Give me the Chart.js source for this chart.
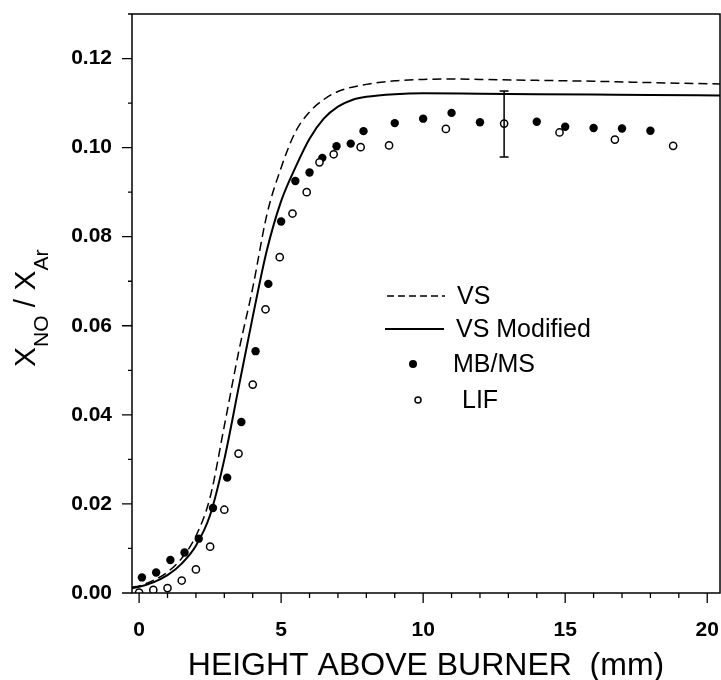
<!DOCTYPE html>
<html lang="en">
<head>
    <meta charset="UTF-8">
    <title>XNO / XAr vs height above burner</title>
    <script src="https://cdn.jsdelivr.net/npm/chart.js"></script>
    <style>
        body { margin: 0; background: #fff; }
        #wrap { width: 721px; height: 680px; }
    </style>
</head>
<body>
<div id="wrap"><canvas id="noChart" width="721" height="680"></canvas></div>
<script>
    // model curves
    const vsX = [-0.25, 0, 0.5, 1, 1.5, 2, 2.5, 3, 3.5, 4, 4.5, 5, 5.5, 6, 6.5, 7, 8, 9, 10, 11, 12, 14, 16, 18, 20.45];
    const vsY = [0.0013, 0.0016, 0.0028, 0.0047, 0.0078, 0.0128, 0.0215, 0.0375, 0.0540, 0.0685, 0.0850, 0.0955, 0.1035, 0.1080, 0.1108, 0.1126, 0.1142, 0.1150, 0.1153, 0.1154, 0.1153, 0.1151, 0.1149, 0.1146, 0.1143];
    const vsModX = [-0.25, 0, 0.5, 1, 1.5, 2, 2.5, 3, 3.5, 4, 4.5, 5, 5.5, 6, 6.5, 7, 7.5, 8, 9, 10, 12, 14, 16, 18, 20.45];
    const vsModY = [0.0011, 0.0014, 0.0024, 0.0040, 0.0066, 0.0106, 0.0175, 0.0300, 0.0460, 0.0620, 0.0770, 0.0880, 0.0955, 0.1020, 0.1065, 0.1092, 0.1107, 0.1114, 0.1120, 0.1122, 0.1121, 0.1120, 0.1119, 0.1118, 0.1117];

    // measurements
    const mbX = [0.1, 0.6, 1.1, 1.6, 2.1, 2.6, 3.1, 3.6, 4.1, 4.55, 5.0, 5.5, 6.0, 6.45, 6.95, 7.45, 7.9, 9, 10, 11, 12, 14, 15, 16, 17, 18];
    const mbY = [0.0035, 0.0046, 0.0074, 0.0091, 0.0122, 0.0191, 0.0259, 0.0384, 0.0543, 0.0694, 0.0834, 0.0925, 0.0944, 0.0977, 0.1003, 0.1009, 0.1037, 0.1055, 0.1065, 0.1078, 0.1057, 0.1058, 0.1047, 0.1044, 0.1043, 0.1038];
    const lifX = [0, 0.5, 1.0, 1.5, 2.0, 2.5, 3.0, 3.5, 4.0, 4.45, 4.95, 5.4, 5.9, 6.35, 6.85, 7.8, 8.8, 10.8, 12.85, 14.8, 16.75, 18.8];
    const lifY = [0.0001, 0.0007, 0.0011, 0.0028, 0.0053, 0.0104, 0.0187, 0.0313, 0.0468, 0.0637, 0.0754, 0.0852, 0.0900, 0.0967, 0.0985, 0.1001, 0.1005, 0.1042, 0.1054, 0.1034, 0.1018, 0.1004];

    // error bar
    const errX = 12.85;
    const errLow = 0.0979;
    const errHigh = 0.1127;

    const xMajor = [0, 5, 10, 15, 20];

    const toPts = (xs, ys) => xs.map((x, i) => ({ x: x, y: ys[i] }));

    const frame = {
        id: 'frame',
        afterDraw(chart) {
            const ctx = chart.ctx;
            const a = chart.chartArea;
            const xs = chart.scales.x, ys = chart.scales.y;
            ctx.save();
            ctx.strokeStyle = '#000';
            ctx.lineWidth = 1.5;
            ctx.strokeRect(a.left, a.top, a.right - a.left, a.bottom - a.top);

            // tick marks, outward
            ctx.lineWidth = 1.3;
            ctx.beginPath();
            xs.ticks.forEach(t => {
                const px = xs.getPixelForValue(t.value);
                const len = xMajor.includes(t.value) ? 10 : 5;
                ctx.moveTo(px, a.bottom);
                ctx.lineTo(px, a.bottom + len);
            });
            ys.ticks.forEach(t => {
                const py = ys.getPixelForValue(t.value);
                const major = Math.round(t.value * 100) % 2 === 0;
                ctx.moveTo(a.left, py);
                ctx.lineTo(a.left - (major ? 10 : 4), py);
            });
            ctx.stroke();

            // error bar
            const ex = xs.getPixelForValue(errX);
            const e1 = ys.getPixelForValue(errLow);
            const e2 = ys.getPixelForValue(errHigh);
            ctx.lineWidth = 1.5;
            ctx.beginPath();
            ctx.moveTo(ex, e1); ctx.lineTo(ex, e2);
            ctx.moveTo(ex - 4.5, e1); ctx.lineTo(ex + 4.5, e1);
            ctx.moveTo(ex - 4.5, e2); ctx.lineTo(ex + 4.5, e2);
            ctx.stroke();

            // x title
            ctx.fillStyle = '#000';
            ctx.font = '32px "Liberation Sans", Arial, sans-serif';
            ctx.textAlign = 'center';
            ctx.textBaseline = 'alphabetic';
            ctx.fillText('HEIGHT ABOVE BURNER  (mm)', (a.left + a.right) / 2, 675);

            // y title with subscripts
            ctx.save();
            ctx.translate(35, 367);
            ctx.rotate(-Math.PI / 2);
            ctx.textAlign = 'left';
            const big = '30px "Liberation Sans", Arial, sans-serif';
            const small = '21px "Liberation Sans", Arial, sans-serif';
            let cx = 0;
            const part = (s, f, dy) => {
                ctx.font = f;
                ctx.fillText(s, cx, dy);
                cx += ctx.measureText(s).width;
            };
            part('X', big, 0);
            part('NO', small, 13);
            part(' / ', big, 0);
            part('X', big, 0);
            part('Ar', small, 13);
            ctx.restore();

            // legend
            ctx.font = '25px "Liberation Sans", Arial, sans-serif';
            ctx.textAlign = 'left';
            ctx.textBaseline = 'middle';
            ctx.lineWidth = 1.5;
            ctx.setLineDash([7, 4]);
            ctx.beginPath(); ctx.moveTo(387, 296); ctx.lineTo(445, 296); ctx.stroke();
            ctx.setLineDash([]);
            ctx.fillText('VS', 457, 297);
            ctx.lineWidth = 2;
            ctx.beginPath(); ctx.moveTo(385, 329); ctx.lineTo(444, 329); ctx.stroke();
            ctx.fillText('VS Modified', 456, 330);
            ctx.beginPath(); ctx.arc(413, 364, 4, 0, Math.PI * 2); ctx.fill();
            ctx.fillText('MB/MS', 453, 365);
            ctx.lineWidth = 1.5;
            ctx.beginPath(); ctx.arc(418, 400, 3, 0, Math.PI * 2); ctx.stroke();
            ctx.fillText('LIF', 462, 401);
            ctx.restore();
        }
    };

    new Chart(document.getElementById('noChart'), {
        type: 'scatter',
        data: {
            datasets: [
                {
                    label: 'LIF',
                    data: toPts(lifX, lifY),
                    pointRadius: 3.6,
                    pointBorderWidth: 1.5,
                    pointBackgroundColor: '#fff',
                    pointBorderColor: '#000',
                    showLine: false
                },
                {
                    label: 'MB/MS',
                    data: toPts(mbX, mbY),
                    pointRadius: 4.2,
                    pointBorderWidth: 0,
                    pointBackgroundColor: '#000',
                    pointBorderColor: '#000',
                    showLine: false
                },
                {
                    label: 'VS Modified',
                    data: toPts(vsModX, vsModY),
                    showLine: true,
                    borderColor: '#000',
                    borderWidth: 2,
                    pointRadius: 0,
                    cubicInterpolationMode: 'monotone'
                },
                {
                    label: 'VS',
                    data: toPts(vsX, vsY),
                    showLine: true,
                    borderColor: '#000',
                    borderWidth: 1.5,
                    borderDash: [9, 5],
                    pointRadius: 0,
                    cubicInterpolationMode: 'monotone'
                }
            ]
        },
        options: {
            responsive: false,
            animation: false,
            layout: { autoPadding: false, padding: { top: 14, right: 1, left: 0, bottom: 0 } },
            plugins: {
                legend: { display: false },
                tooltip: { enabled: false }
            },
            scales: {
                x: {
                    type: 'linear',
                    min: -0.25,
                    max: 20.45,
                    afterFit: s => { s.height = 87; s.paddingLeft = 0; s.paddingRight = 0; },
                    border: { display: false },
                    grid: { drawOnChartArea: false, drawTicks: false },
                    ticks: {
                        stepSize: 1,
                        includeBounds: false,
                        autoSkip: false,
                        maxRotation: 0,
                        padding: 25,
                        color: '#000',
                        font: { family: '"Liberation Sans", Arial, sans-serif', size: 21, weight: 'bold' },
                        callback: v => xMajor.includes(v) ? String(v) : ''
                    }
                },
                y: {
                    min: 0,
                    max: 0.13,
                    afterFit: s => { s.width = 132; s.paddingTop = 0; s.paddingBottom = 0; },
                    border: { display: false },
                    grid: { drawOnChartArea: false, drawTicks: false },
                    ticks: {
                        stepSize: 0.01,
                        autoSkip: false,
                        padding: 20,
                        color: '#000',
                        font: { family: '"Liberation Sans", Arial, sans-serif', size: 21, weight: 'bold' },
                        callback: v => Math.round(v * 100) % 2 === 0 ? v.toFixed(2) : ''
                    }
                }
            }
        },
        plugins: [frame]
    });
</script>
</body>
</html>
